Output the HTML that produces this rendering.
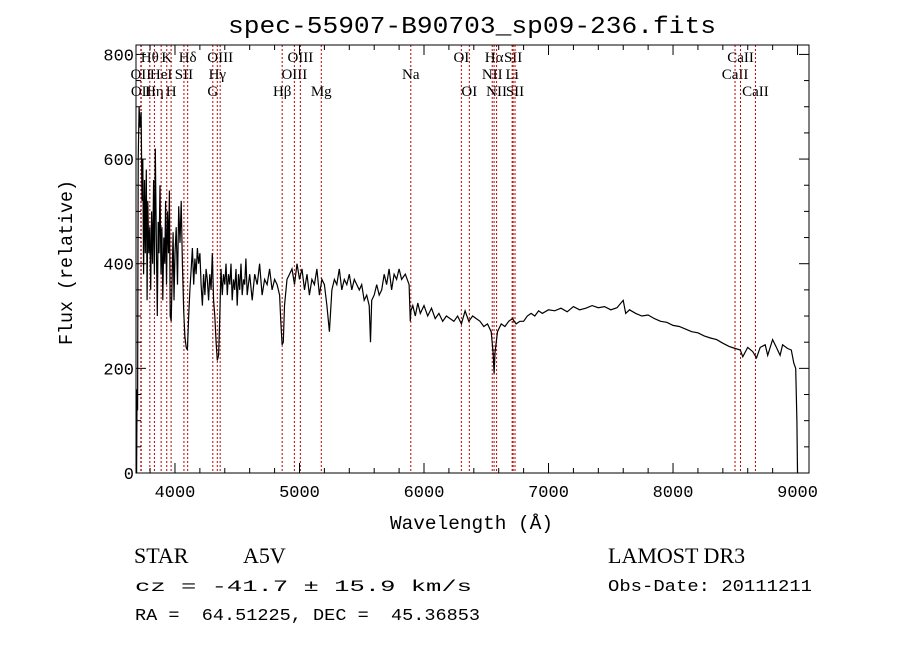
<!DOCTYPE html>
<html><head><meta charset="utf-8"><style>
body{margin:0;background:#fff}
svg text{fill:#000}
.mono{font-family:"Liberation Mono",monospace}
.ser{font-family:"Liberation Serif",serif}
</style></head><body>
<svg id="chart" width="900" height="649" xmlns="http://www.w3.org/2000/svg">
<rect width="900" height="649" fill="#fff"/>
<text class="mono" x="228" y="33" font-size="24" textLength="488" lengthAdjust="spacingAndGlyphs">spec-55907-B90703_sp09-236.fits</text>
<g id="lines"></g>
<g id="ticks"></g>
<path id="spec" fill="none" stroke="#000" stroke-width="1.2"/>
<rect x="136" y="45" width="673" height="428" fill="none" stroke="#000" stroke-width="1"/>
<text class="mono" x="390" y="529" font-size="19" textLength="163" lengthAdjust="spacingAndGlyphs">Wavelength (Å)</text>
<text class="mono" transform="translate(72,345) rotate(-90)" font-size="19" textLength="165" lengthAdjust="spacingAndGlyphs">Flux (relative)</text>
<text class="ser" x="134" y="563" font-size="22">STAR</text>
<text class="ser" x="243" y="563" font-size="22">A5V</text>
<text class="ser" x="608" y="563" font-size="22">LAMOST DR3</text>
<text class="mono" x="135" y="591" font-size="16" style="white-space:pre" textLength="337" lengthAdjust="spacingAndGlyphs">cz = -41.7 ± 15.9 km/s</text>
<text class="mono" x="608" y="591" font-size="17" textLength="204" lengthAdjust="spacingAndGlyphs">Obs-Date: 20111211</text>
<text class="mono" x="135" y="620" font-size="17" style="white-space:pre" textLength="345" lengthAdjust="spacingAndGlyphs">RA =  64.51225, DEC =  45.36853</text>
</svg>
<script>
const wave=[3692,3696,3700,3705,3712,3720,3728,3735,3742,3748,3755,3762,3770,3776,3782,3790,3798,3805,3812,3820,3828,3835,3842,3850,3858,3865,3872,3880,3888,3895,3902,3910,3918,3925,3932,3940,3948,3955,3962,3970,3978,3985,3992,4000,4010,4020,4030,4040,4050,4060,4070,4080,4090,4100,4110,4120,4130,4140,4150,4160,4170,4180,4190,4200,4210,4220,4230,4240,4250,4260,4270,4280,4290,4300,4310,4320,4330,4340,4350,4360,4370,4380,4390,4400,4410,4420,4430,4440,4450,4460,4470,4480,4490,4500,4510,4520,4530,4540,4550,4560,4570,4580,4590,4600,4620,4640,4660,4680,4700,4720,4740,4760,4780,4800,4820,4840,4850,4860,4870,4880,4900,4920,4940,4960,4980,5000,5020,5040,5060,5080,5100,5120,5140,5160,5180,5200,5220,5240,5260,5280,5300,5320,5340,5360,5380,5400,5420,5440,5460,5480,5500,5520,5540,5560,5570,5580,5600,5620,5640,5660,5680,5700,5720,5740,5760,5780,5800,5820,5850,5880,5890,5895,5910,5930,5950,5970,6000,6030,6060,6090,6120,6150,6180,6210,6240,6270,6300,6330,6360,6390,6420,6450,6480,6510,6540,6555,6563,6570,6590,6620,6650,6680,6710,6740,6770,6800,6830,6860,6890,6920,6950,7000,7050,7100,7150,7200,7250,7300,7350,7400,7450,7500,7550,7600,7620,7650,7700,7750,7800,7850,7900,7950,8000,8050,8100,8150,8200,8250,8300,8350,8400,8450,8500,8540,8560,8600,8640,8670,8700,8740,8760,8800,8830,8860,8880,8920,8950,8970,8985,8995,9000];
const flux=[0,160,120,600,700,660,690,520,600,380,560,420,580,330,520,420,470,350,500,400,560,380,620,450,300,480,420,550,380,470,330,450,400,520,360,500,420,540,300,290,380,460,330,420,470,360,510,440,520,400,310,260,240,235,300,350,390,430,360,410,380,430,400,420,360,320,380,340,390,370,330,380,350,420,330,300,250,215,225,300,390,340,380,360,400,340,380,360,400,330,370,350,390,320,380,350,400,340,370,360,410,340,360,380,330,380,360,400,340,370,360,390,350,370,360,340,290,245,250,320,370,380,390,360,400,370,390,350,380,340,370,360,390,340,370,360,320,270,350,370,360,390,350,370,360,380,350,370,360,350,360,330,340,320,250,330,340,360,340,350,380,360,390,350,380,370,390,370,380,360,290,310,320,300,325,305,320,300,315,295,305,290,300,295,290,300,285,310,290,300,295,290,280,285,270,230,190,230,270,285,280,290,295,285,290,290,300,305,300,310,305,312,310,315,308,318,312,315,320,316,318,312,316,330,305,312,305,300,302,295,290,288,282,280,275,270,268,262,258,255,248,242,238,235,222,240,232,220,240,245,225,255,240,225,245,238,235,210,200,100,0];
const xTicks=[4000,5000,6000,7000,8000,9000];
const yTicks=[0,200,400,600,800];
const lineNames=["OII","OII","Hθ","Hη","HeI","K","H","SII","Hδ","G","Hγ","OIII","Hβ","OIII","OIII","Mg","Na","OI","OI","NII","Hα","NII","Li","SII","SII","CaII","CaII","CaII"];
const lineWaves=[3726,3729,3798,3835,3889,3934,3969,4072,4102,4304,4340,4363,4861,4959,5007,5175,5894,6300,6364,6548,6563,6583,6708,6716,6731,8498,8542,8662];
const lineRows=[1,2,0,2,1,0,2,1,0,2,1,0,2,1,0,2,1,0,2,1,0,2,1,0,2,1,0,2];
const X0=136,X1=809,Y0=45,Y1=473,XMIN=3687,XMAX=9092,YMIN=0,YMAX=818;
const sx=w=>X0+(w-XMIN)/(XMAX-XMIN)*(X1-X0);
const sy=f=>Y1-(f-YMIN)/(YMAX-YMIN)*(Y1-Y0);
const NS="http://www.w3.org/2000/svg";
function mk(tag,attrs,parent){const e=document.createElementNS(NS,tag);for(const k in attrs)e.setAttribute(k,attrs[k]);parent.appendChild(e);return e;}
const lg=document.getElementById('lines');
lineWaves.forEach((w,i)=>{
  const l=mk('line',{x1:sx(w),x2:sx(w),y1:Y0,y2:Y1,stroke:'#c00000','stroke-width':1,'stroke-dasharray':'2,2'},lg);
  
  
  const t=mk('text',{x:sx(w),y:62+lineRows[i]*17,'font-size':15,'text-anchor':'middle','class':'ser'},lg);
  t.textContent=lineNames[i];
  
  
});
const tg=document.getElementById('ticks');
for(let w=3800;w<=9000;w+=200){const big=w%1000===0;const x=sx(w);
  mk('line',{x1:x,x2:x,y1:Y1,y2:Y1-(big?10:5),stroke:'#000'},tg);
  mk('line',{x1:x,x2:x,y1:Y0,y2:Y0+(big?10:5),stroke:'#000'},tg);}
for(let f=0;f<=800;f+=50){const big=f%200===0;const y=sy(f);
  mk('line',{x1:X0,x2:X0+(big?10:5),y1:y,y2:y,stroke:'#000'},tg);
  mk('line',{x1:X1,x2:X1-(big?10:5),y1:y,y2:y,stroke:'#000'},tg);}
xTicks.forEach(v=>{const t=mk('text',{x:sx(v),y:Y1+24,'font-size':17,'text-anchor':'middle','class':'mono'},tg);t.textContent=v;
  
  });
yTicks.forEach(v=>{const t=mk('text',{x:X0-2,y:sy(v)+6,'font-size':17,'text-anchor':'end','class':'mono'},tg);t.textContent=v;
  
  });
let d='';wave.forEach((w,i)=>{d+=(i?'L':'M')+sx(w).toFixed(1)+','+sy(flux[i]).toFixed(1);});
document.getElementById('spec').setAttribute('d',d);
</script>
</body></html>
